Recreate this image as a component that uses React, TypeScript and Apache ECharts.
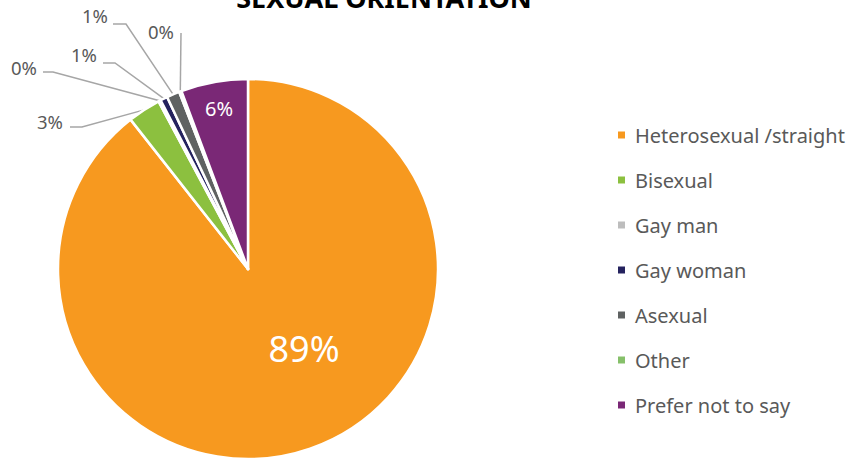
import React, { useEffect, useRef } from "react";
import * as echarts from "echarts";

const categories = [
  "Heterosexual /straight",
  "Bisexual",
  "Gay man",
  "Gay woman",
  "Asexual",
  "Other",
  "Prefer not to say",
];
const values = [89.4, 2.8, 0.2, 0.6, 1.1, 0.2, 5.7];
const colors = ["#F7991F", "#8CC03F", "#BDBDBD", "#24225E", "#5F6262", "#86C06A", "#7A2876"];
const insideLabel = [true, false, false, false, false, false, true];
const titleText = "SEXUAL ORIENTATION";

// label placement (layout only)
const labelLayouts: any[] = [
  { x: 304, y: 348, align: "center" },
  { x: 63, y: 121, align: "right", line: [[82, 127], [70, 127]] },
  { x: 37, y: 67, align: "right", line: [[53, 72], [43, 72]] },
  { x: 97, y: 54, align: "right", line: [[115, 63], [103, 63]] },
  { x: 108, y: 15, align: "right", line: [[126, 24], [113, 24]] },
  { x: 161, y: 31, align: "center", line: [[181, 33]] },
  { x: 219, y: 108, align: "center" },
];

const FONT = "'Noto Sans', sans-serif";

export default function App() {
  const ref = useRef<HTMLDivElement>(null);
  useEffect(() => {
    if (!ref.current) return;
    const chart = echarts.init(ref.current, undefined, { renderer: "svg" });
    const data = categories.map((name, i) => ({
      name,
      value: values[i],
      itemStyle: { color: colors[i] },
      label: insideLabel[i]
        ? { position: "inside", color: "#FFFFFF", fontSize: i === 0 ? 36 : 20 }
        : { position: "outside", color: "#595959", fontSize: 18.5 },
      labelLine: { show: !insideLabel[i] },
    }));
    chart.setOption({
      animation: false,
      textStyle: { fontFamily: FONT },
      graphic: [
        {
          type: "text",
          x: 384,
          y: -3,
          style: {
            text: titleText,
            font: `bold 27px ${FONT}`,
            fill: "#000000",
            textAlign: "center",
            textVerticalAlign: "middle",
          },
        },
      ],
      legend: {
        orient: "vertical",
        left: 611,
        top: 120,
        itemWidth: 9,
        itemHeight: 9,
        itemGap: 25,
        icon: "rect",
        data: categories,
        textStyle: {
          color: "#595959",
          fontSize: 20,
          lineHeight: 20,
          fontFamily: FONT,
          padding: [0, 0, 0, 4],
        },
      },
      series: [
        {
          type: "pie",
          center: [248, 269],
          radius: 190,
          startAngle: 90,
          clockwise: true,
          avoidLabelOverlap: false,
          itemStyle: { borderColor: "#FFFFFF", borderWidth: 2.5 },
          label: {
            fontFamily: FONT,
            formatter: (p: any) => `${Math.round(p.value)}%`,
          },
          labelLine: {
            lineStyle: { color: "#A6A6A6", width: 1.5 },
            length: 20,
            length2: 10,
          },
          emphasis: { disabled: true },
          labelLayout: (params: any) => {
            const L = labelLayouts[params.dataIndex];
            const out: any = { x: L.x, y: L.y, align: L.align, verticalAlign: "middle" };
            if (L.line && params.labelLinePoints && params.labelLinePoints[0]) {
              const p0 = params.labelLinePoints[0];
              out.labelLinePoints = [p0, ...L.line];
            }
            return out;
          },
          data,
        },
      ],
    });
    return () => chart.dispose();
  }, []);
  return (
    <div
      ref={ref}
      style={{ position: "absolute", left: 0, top: 0, width: 856, height: 461 }}
    />
  );
}
